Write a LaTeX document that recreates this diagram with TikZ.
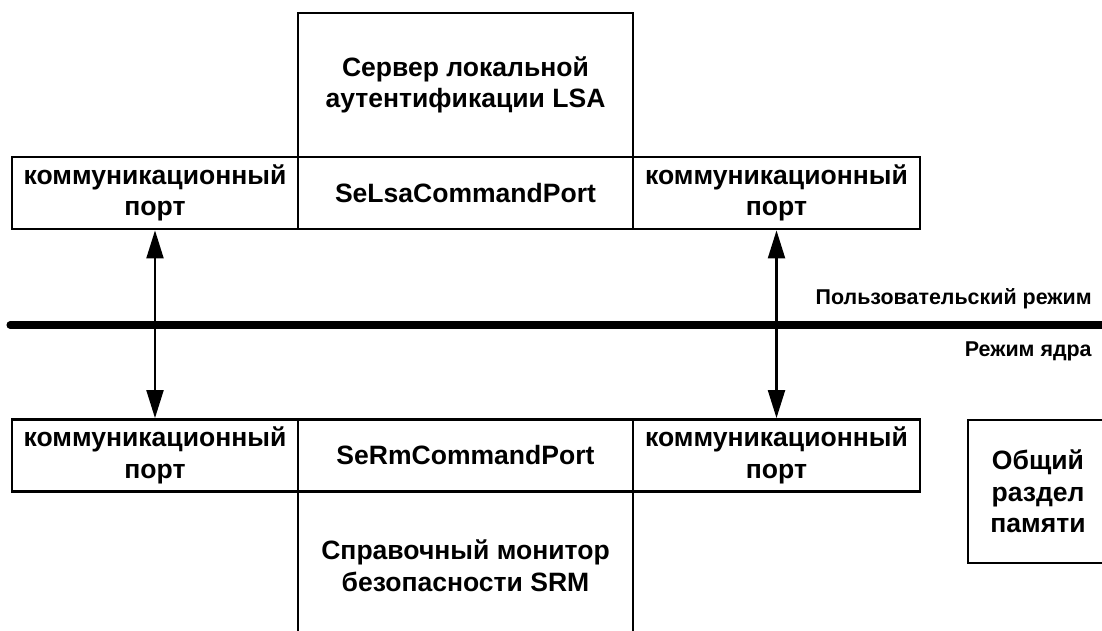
\documentclass[tikz,border=0pt]{standalone}
\usepackage{fontspec}
\setmainfont{Liberation Sans}
\usetikzlibrary{arrows.meta,positioning}

\tikzset{
  box/.style={draw, line width=1.6pt, inner sep=0pt, align=center,
    font=\bfseries\fontsize{15.1}{18}\selectfont},
  port/.style={box, minimum height=1.44cm},
  mode/.style={anchor=east, inner sep=0pt, font=\bfseries\fontsize{12.2}{14}\selectfont},
  link/.style={line width=1.2pt, {Triangle[width=0.34cm,length=0.56cm]}-{Triangle[width=0.34cm,length=0.56cm]}}
}

\begin{document}
\begin{tikzpicture}
  \useasboundingbox (0,0) rectangle (22.04,12.6);

  % user mode: LSA and its ports
  \node[box, minimum width=6.7cm, minimum height=2.88cm] (lsa) at (9.31,10.9) {Сервер локальной\\аутентификации LSA};
  \node[port, minimum width=5.72cm] (pu1) at (3.1,8.74) {коммуникационный\\порт};
  \node[port, minimum width=6.7cm] (cu) at (9.31,8.74) {SeLsaCommandPort};
  \node[port, minimum width=5.74cm] (pu2) at (15.53,8.74) {коммуникационный\\порт};

  % kernel mode: SRM and its ports
  \node[port, minimum width=5.72cm] (pd1) at (3.1,3.49) {коммуникационный\\порт};
  \node[port, minimum width=6.7cm] (cd) at (9.31,3.49) {SeRmCommandPort};
  \node[port, minimum width=5.74cm] (pd2) at (15.53,3.49) {коммуникационный\\порт};
  \node[box, minimum width=6.7cm, minimum height=2.98cm] (srm) at (9.31,1.29) {Справочный монитор\\безопасности SRM};
  \node[box, minimum width=2.8cm, minimum height=2.86cm] (mem) at (20.76,2.77) {Общий\\раздел\\памяти};

  % boundary between the modes
  \coordinate (bl) at (0.2,6.1);
  \coordinate (br) at (22.3,6.1);
  \draw[line width=4pt, line cap=round] (bl) -- (br);
  \node[mode] (user) at (21.84,6.62) {Пользовательский режим};
  \node[mode] (kern) at (21.84,5.58) {Режим ядра};

  \draw[link] (pu1.south) -- (pd1.north);
  \draw[link] (pu2.south) -- (pd2.north);
\end{tikzpicture}
\end{document}
